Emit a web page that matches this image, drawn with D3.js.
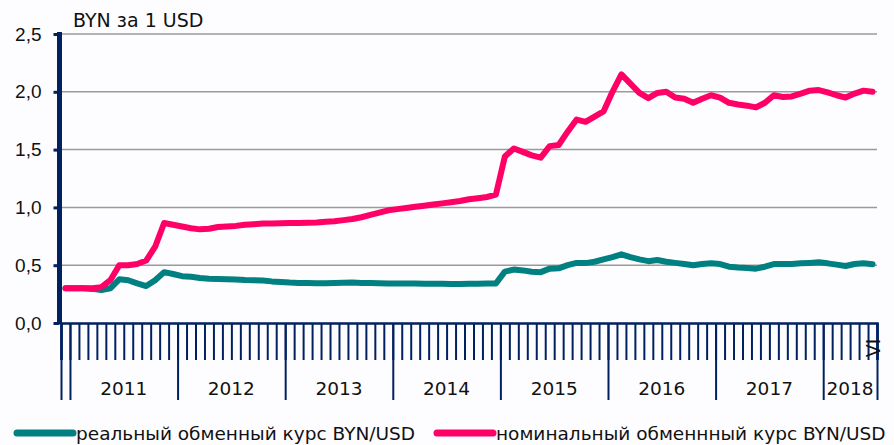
<!DOCTYPE html>
<html>
<head>
<meta charset="utf-8">
<script src="https://cdn.jsdelivr.net/npm/d3@7"></script>
<style>
  body { margin: 0; background: #fdfdff; }
  svg { display: block; font-family: "DejaVu Sans", Verdana, sans-serif; }
  .grid line { stroke: #9a9a9a; stroke-width: 1.5; }
  .axis path, .axis line { stroke: #002060; }
  .axis text { font-size: 19px; fill: #111; }
  .axis text.year { font-size: 18.5px; }
  .line { fill: none; stroke-width: 6; stroke-linejoin: round; stroke-linecap: round; }
</style>
</head>
<body>
<svg id="chart" width="894" height="445"></svg>
<script>
// months: Dec 2010 .. Jun 2018
var years = ["2011", "2012", "2013", "2014", "2015", "2016", "2017", "2018"]
var yearStart = [1, 13, 25, 37, 49, 61, 73, 85, 91]   // month index where each year starts (last = end)
var yTicks = [0, 0.5, 1, 1.5, 2, 2.5]
var lastMonthLabel = "VI"

// реальный обменный курс BYN/USD
var realRate = [
  0.30,
  0.30, 0.30, 0.295, 0.285, 0.30, 0.378, 0.37, 0.343, 0.32, 0.37, 0.44, 0.424,
  0.405, 0.40, 0.39, 0.382, 0.38, 0.378, 0.376, 0.372, 0.37, 0.368, 0.36, 0.355,
  0.35, 0.347, 0.345, 0.343, 0.343, 0.345, 0.348, 0.35, 0.347, 0.345, 0.343, 0.342,
  0.342, 0.341, 0.341, 0.340, 0.340, 0.339, 0.338, 0.338, 0.339, 0.340, 0.341, 0.342,
  0.444, 0.462, 0.455, 0.444, 0.44, 0.47, 0.473, 0.50, 0.52, 0.518, 0.53, 0.55,
  0.57, 0.594, 0.57, 0.55, 0.535, 0.545, 0.53, 0.52, 0.51, 0.50, 0.51, 0.516,
  0.51, 0.487, 0.48, 0.475, 0.47, 0.487, 0.51, 0.51, 0.51, 0.516, 0.52, 0.525,
  0.516, 0.505, 0.493, 0.51, 0.516, 0.508
]

// номинальный обменный курс BYN/USD
var nominalRate = [
  0.30,
  0.30, 0.30, 0.30, 0.31, 0.37, 0.50, 0.50, 0.51, 0.54, 0.66, 0.865, 0.85,
  0.835, 0.82, 0.81, 0.815, 0.83, 0.835, 0.84, 0.85, 0.855, 0.86, 0.86, 0.862,
  0.865, 0.866, 0.868, 0.87, 0.875, 0.88, 0.89, 0.90, 0.915, 0.935, 0.955, 0.975,
  0.985, 0.995, 1.005, 1.015, 1.025, 1.035, 1.045, 1.055, 1.07, 1.08, 1.09, 1.11,
  1.44, 1.51, 1.48, 1.45, 1.43, 1.53, 1.54, 1.655, 1.76, 1.74, 1.785, 1.83,
  2.0, 2.15, 2.07, 1.99, 1.945, 1.99, 2.0, 1.95, 1.94, 1.905, 1.94, 1.97,
  1.95, 1.905, 1.89, 1.88, 1.865, 1.905, 1.97, 1.955, 1.96, 1.985, 2.01, 2.015,
  1.995, 1.97, 1.95, 1.985, 2.01, 2.0
]

var seriesNames = ["реальный обменный курс BYN/USD", "номинальный обменнный курс BYN/USD"]
var seriesColors = ["#008080", "#ff0066"]

var svg = d3.select("#chart")
var nMonths = realRate.length

// scales
var x = d3.scaleLinear().domain([0, nMonths]).range([61, 877])
var y = d3.scaleLinear().domain([0, 2.5]).range([323, 34])
var comma = d3.formatLocale({ decimal: ",", thousands: " ", grouping: [3], currency: ["", ""] }).format(".1f")

// gridlines
svg.append("g").attr("class", "grid")
  .selectAll("line")
  .data(yTicks.filter(function (d) { return d > 0 }))
  .enter().append("line")
  .attr("x1", x(0)).attr("x2", x(nMonths))
  .attr("y1", function (d) { return y(d) })
  .attr("y2", function (d) { return y(d) })

// month ticks
svg.append("g").attr("class", "axis")
  .attr("transform", "translate(0," + y(0) + ")")
  .call(d3.axisBottom(x).tickValues(d3.range(0, nMonths + 1)).tickSize(37).tickFormat(""))
  .call(function (g) {
    g.select(".domain").attr("stroke-width", 2.5)
    g.selectAll(".tick line").attr("stroke-width", 2)
  })

// year ticks
svg.append("g").attr("class", "axis")
  .attr("transform", "translate(0," + y(0) + ")")
  .call(d3.axisBottom(x).tickValues([0].concat(yearStart)).tickSize(77).tickSizeOuter(0).tickFormat(""))
  .call(function (g) {
    g.select(".domain").remove()
    g.selectAll(".tick line").attr("stroke-width", 2)
  })

// year labels
svg.append("g").attr("class", "axis")
  .selectAll("text")
  .data(years)
  .enter().append("text")
  .attr("class", "year")
  .attr("x", function (d, i) { return (x(yearStart[i]) + x(yearStart[i + 1])) / 2 })
  .attr("y", 395)
  .attr("text-anchor", "middle")
  .text(function (d) { return d })

// last month label
svg.append("g").attr("class", "axis")
  .append("text")
  .attr("transform", "translate(" + (x(nMonths - 0.5) + 7) + ",348) rotate(-90)")
  .attr("text-anchor", "middle")
  .text(lastMonthLabel)

// y axis
svg.append("g").attr("class", "axis")
  .attr("transform", "translate(59.5,0)")
  .call(d3.axisLeft(y).tickValues(yTicks).tickSize(6).tickSizeOuter(0).tickPadding(12).tickFormat(comma))
  .call(function (g) {
    g.select(".domain").attr("stroke-width", 5).attr("d", "M0," + (y(2.5) - 2) + "V" + (y(0) + 1))
    g.selectAll(".tick line").attr("stroke-width", 3)
  })

svg.append("text")
  .attr("x", 73).attr("y", 27)
  .attr("font-size", 19).attr("fill", "#111")
  .text("BYN за 1 USD")

// lines
var line = d3.line()
  .x(function (d, i) { return x(i + 0.5) })
  .y(function (d) { return y(d) })

svg.append("path").attr("class", "line")
  .datum(realRate).attr("stroke", seriesColors[0]).attr("d", line)
svg.append("path").attr("class", "line")
  .datum(nominalRate).attr("stroke", seriesColors[1]).attr("d", line)

// legend
var legendX = [17, 437]
var legend = svg.append("g").selectAll("g")
  .data(seriesNames)
  .enter().append("g")
  .attr("transform", function (d, i) { return "translate(" + legendX[i] + ",433)" })
legend.append("line")
  .attr("x1", 0).attr("x2", 56)
  .attr("stroke", function (d, i) { return seriesColors[i] })
  .attr("stroke-width", 7).attr("stroke-linecap", "round")
legend.append("text")
  .attr("x", 59).attr("y", 7)
  .attr("font-size", 18.5).attr("fill", "#111")
  .text(function (d) { return d })
</script>
</body>
</html>
